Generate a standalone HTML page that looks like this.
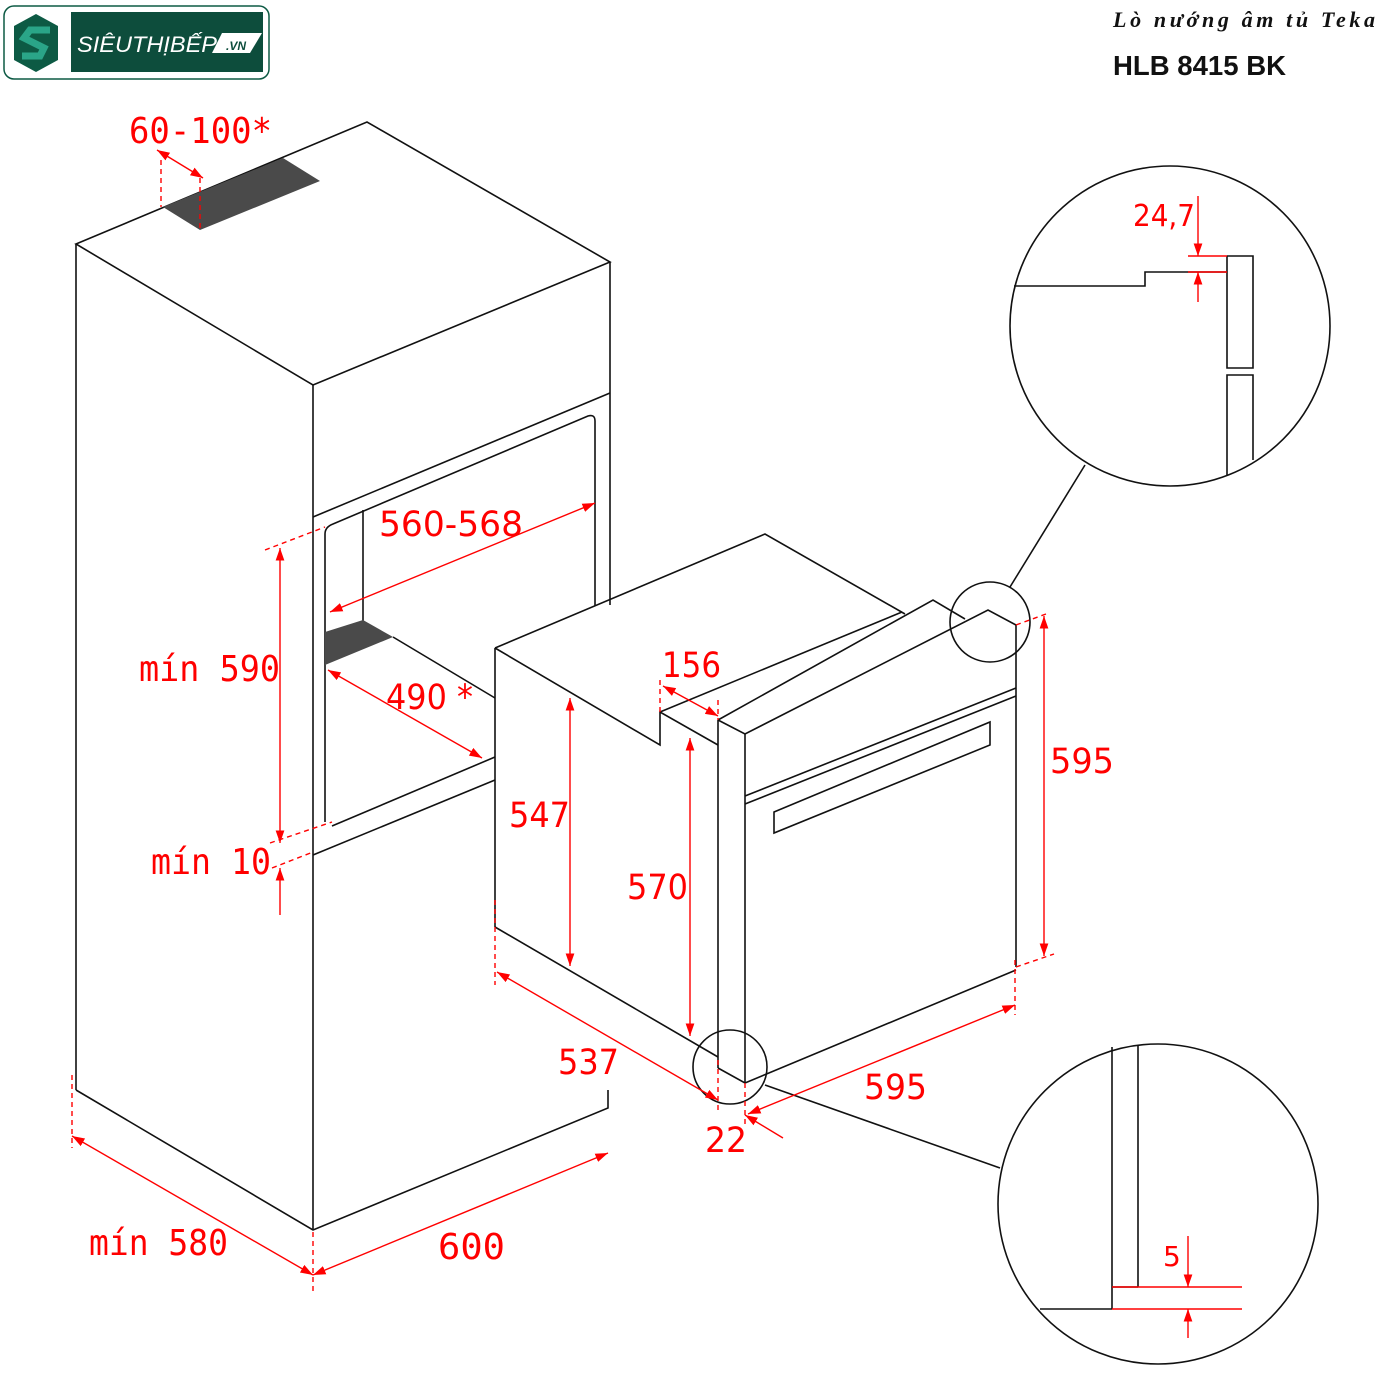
<!DOCTYPE html>
<html><head><meta charset="utf-8"><style>html,body{margin:0;padding:0;background:#fff}svg{display:block}</style></head><body>
<svg width="1400" height="1400" viewBox="0 0 1400 1400" xmlns="http://www.w3.org/2000/svg">
<rect width="1400" height="1400" fill="#fff"/>
<!-- logo -->
<rect x="4" y="6" width="265" height="73" rx="10" fill="#fff" stroke="#0d5a44" stroke-width="1.5"/>
<polygon points="36,14 58,26 58,60 36,72 14,60 14,26" fill="#0d5a44"/>
<path d="M50,30 L30,30 L24,38 L44,48 L40,56 L22,56" stroke="#2aa588" stroke-width="7" fill="none"/>
<rect x="71" y="12" width="192" height="60" fill="#0d4d3c"/>
<text x="77" y="52" font-family="Liberation Sans, sans-serif" font-style="italic" font-size="22" fill="#fff" textLength="140" lengthAdjust="spacingAndGlyphs">SIÊUTHỊBẾP</text>
<polygon points="222,33 262,33 250,53 212,53" fill="#fff"/>
<text x="226" y="50" font-family="Liberation Sans, sans-serif" font-style="italic" font-weight="bold" font-size="12" fill="#0d4d3c">.VN</text>
<text x="1113" y="27" font-family="Liberation Serif, DejaVu Serif, serif" font-style="italic" font-weight="bold" font-size="22" fill="#111" textLength="262" lengthAdjust="spacing">Lò nướng âm tủ Teka</text>
<text x="1113" y="75" font-family="Liberation Sans, sans-serif" font-weight="bold" font-size="28" fill="#111" textLength="173" lengthAdjust="spacingAndGlyphs">HLB 8415 BK</text>

<g stroke="#111" stroke-width="1.6" fill="none">
<!-- cabinet -->
<polygon points="76,244 367,122 610,262 313,385"/>
<line x1="76" y1="244" x2="76" y2="1090"/>
<line x1="313" y1="385" x2="313" y2="1230"/>
<line x1="610" y1="262" x2="610" y2="605"/>
<polyline points="76,1090 313,1230 608,1108 608,1090"/>
<line x1="313" y1="517" x2="610" y2="393"/>
<path d="M325,822 L325,534 Q325,527 333,524 L588,416 Q595,414 595,421 L595,606"/>
<line x1="363" y1="510" x2="363" y2="622"/>
<line x1="393" y1="637" x2="495" y2="698"/>
<line x1="332" y1="826" x2="495" y2="757"/>
<line x1="313" y1="855" x2="495" y2="780"/>
<!-- oven -->
<polyline points="495,648 765,534 905,614"/>
<line x1="495" y1="648" x2="495" y2="927"/>
<line x1="495" y1="927" x2="718" y2="1057"/>
<polyline points="495,648 660,745 660,712 718,745"/>
<line x1="660" y1="712" x2="902" y2="612"/>
<polyline points="718,720 933,600 965,619"/>
<polyline points="718,720 745,734 988,610 1016,625 1016,967"/>
<line x1="718" y1="720" x2="718" y2="1068"/>
<line x1="745" y1="734" x2="745" y2="1083"/>
<polyline points="718,1068 745,1083 1016,970"/>
<line x1="745" y1="796" x2="1016" y2="688"/>
<line x1="745" y1="804" x2="1016" y2="696"/>
<polygon points="774,812 990,722 990,745 774,833"/>
<!-- circles -->
<circle cx="990" cy="622" r="40"/>
<circle cx="730" cy="1067" r="37"/>
<line x1="1010" y1="587" x2="1085" y2="465"/>
<line x1="765" y1="1085" x2="1000" y2="1168"/>
<circle cx="1170" cy="326" r="160"/>
<circle cx="1158" cy="1204" r="160"/>
<polyline points="1014,286 1145,286 1145,272 1227,272"/>
<polyline points="1227,256 1253,256 1253,368 1227,368 1227,256"/>
<polyline points="1227,476 1227,375 1253,375 1253,460"/>
<line x1="1112" y1="1047" x2="1112" y2="1309"/>
<line x1="1138" y1="1045" x2="1138" y2="1287"/>
<line x1="1040" y1="1309" x2="1112" y2="1309"/>
<line x1="1112" y1="1287" x2="1138" y2="1287"/>
</g>
<polygon points="163,207 283,158 320,181 200,230" fill="#4a4a4a"/>
<polygon points="325,632 363,620 393,637 325,665" fill="#4a4a4a"/>

<defs><marker id="a" viewBox="0 0 10 10" refX="10" refY="5" markerWidth="9" markerHeight="9" orient="auto-start-reverse"><path d="M0,1.5 L10,5 L0,8.5 z" fill="#f00"/></marker></defs>
<g stroke="#f00" stroke-width="1.4" fill="none">
<line x1="157" y1="150" x2="203" y2="178" marker-start="url(#a)" marker-end="url(#a)"/>
<line x1="280" y1="548" x2="280" y2="843" marker-start="url(#a)" marker-end="url(#a)"/>
<line x1="280" y1="915" x2="280" y2="868" marker-end="url(#a)"/>
<line x1="330" y1="612" x2="595" y2="503" marker-start="url(#a)" marker-end="url(#a)"/>
<line x1="328" y1="670" x2="482" y2="758" marker-start="url(#a)" marker-end="url(#a)"/>
<line x1="570" y1="698" x2="570" y2="966" marker-start="url(#a)" marker-end="url(#a)"/>
<line x1="690" y1="738" x2="690" y2="1036" marker-start="url(#a)" marker-end="url(#a)"/>
<line x1="1044" y1="616" x2="1044" y2="956" marker-start="url(#a)" marker-end="url(#a)"/>
<line x1="663" y1="686" x2="718" y2="716" marker-start="url(#a)" marker-end="url(#a)"/>
<line x1="497" y1="972" x2="718" y2="1100" marker-start="url(#a)" marker-end="url(#a)"/>
<line x1="748" y1="1114" x2="1015" y2="1005" marker-start="url(#a)" marker-end="url(#a)"/>
<line x1="783" y1="1138" x2="745" y2="1115" marker-end="url(#a)"/>
<line x1="72" y1="1136" x2="313" y2="1275" marker-start="url(#a)" marker-end="url(#a)"/>
<line x1="313" y1="1275" x2="608" y2="1153" marker-start="url(#a)" marker-end="url(#a)"/>
<line x1="1198" y1="196" x2="1198" y2="256" marker-end="url(#a)"/>
<line x1="1198" y1="302" x2="1198" y2="272" marker-end="url(#a)"/>
<line x1="1188" y1="256" x2="1227" y2="256"/>
<line x1="1188" y1="272" x2="1227" y2="272"/>
<line x1="1188" y1="1236" x2="1188" y2="1287" marker-end="url(#a)"/>
<line x1="1188" y1="1338" x2="1188" y2="1309" marker-end="url(#a)"/>
<line x1="1112" y1="1287" x2="1242" y2="1287"/>
<line x1="1112" y1="1309" x2="1242" y2="1309"/>
<g stroke-dasharray="5,4">
<line x1="161" y1="160" x2="161" y2="207"/>
<line x1="200" y1="178" x2="200" y2="230"/>
<line x1="265" y1="550" x2="325" y2="527"/>
<line x1="270" y1="843" x2="332" y2="822"/>
<line x1="272" y1="868" x2="313" y2="852"/>
<line x1="660" y1="680" x2="660" y2="712"/>
<line x1="718" y1="700" x2="718" y2="720"/>
<line x1="1016" y1="625" x2="1046" y2="614"/>
<line x1="1016" y1="967" x2="1054" y2="954"/>
<line x1="495" y1="900" x2="495" y2="985"/>
<line x1="718" y1="1060" x2="718" y2="1110"/>
<line x1="745" y1="1083" x2="745" y2="1125"/>
<line x1="1015" y1="960" x2="1015" y2="1015"/>
<line x1="72" y1="1075" x2="72" y2="1148"/>
<line x1="313" y1="1232" x2="313" y2="1295"/>
</g>
</g>
<g fill="#f00" font-family="DejaVu Sans Mono, Liberation Mono, monospace" font-size="36" lengthAdjust="spacingAndGlyphs">
<text x="129" y="143" textLength="143" lengthAdjust="spacingAndGlyphs">60-100*</text>
<text x="139" y="681" textLength="141" lengthAdjust="spacingAndGlyphs">mín 590</text>
<text x="151" y="874" textLength="120" lengthAdjust="spacingAndGlyphs">mín 10</text>
<text x="89" y="1255" textLength="139" lengthAdjust="spacingAndGlyphs">mín 580</text>
<text x="438" y="1259" textLength="67" lengthAdjust="spacingAndGlyphs">600</text>
</g>
<g fill="#f00" font-family="DejaVu Sans, Liberation Sans, sans-serif" font-size="35">
<text x="379" y="536" textLength="144" lengthAdjust="spacingAndGlyphs">560-568</text>
<text x="386" y="709" textLength="87" lengthAdjust="spacingAndGlyphs">490 *</text>
<text x="509" y="827" textLength="61" lengthAdjust="spacingAndGlyphs">547</text>
<text x="627" y="899" textLength="61" lengthAdjust="spacingAndGlyphs">570</text>
<text x="662" y="677" textLength="59" lengthAdjust="spacingAndGlyphs">156</text>
<text x="1050" y="773" textLength="64" lengthAdjust="spacingAndGlyphs">595</text>
<text x="558" y="1074" textLength="61" lengthAdjust="spacingAndGlyphs">537</text>
<text x="864" y="1099" textLength="63" lengthAdjust="spacingAndGlyphs">595</text>
<text x="705" y="1152" textLength="42" lengthAdjust="spacingAndGlyphs">22</text>
<text x="1133" y="226" font-size="30" textLength="62" lengthAdjust="spacingAndGlyphs">24,7</text>
<text x="1163" y="1266" font-size="28">5</text>
</g>
</svg>
</body></html>
